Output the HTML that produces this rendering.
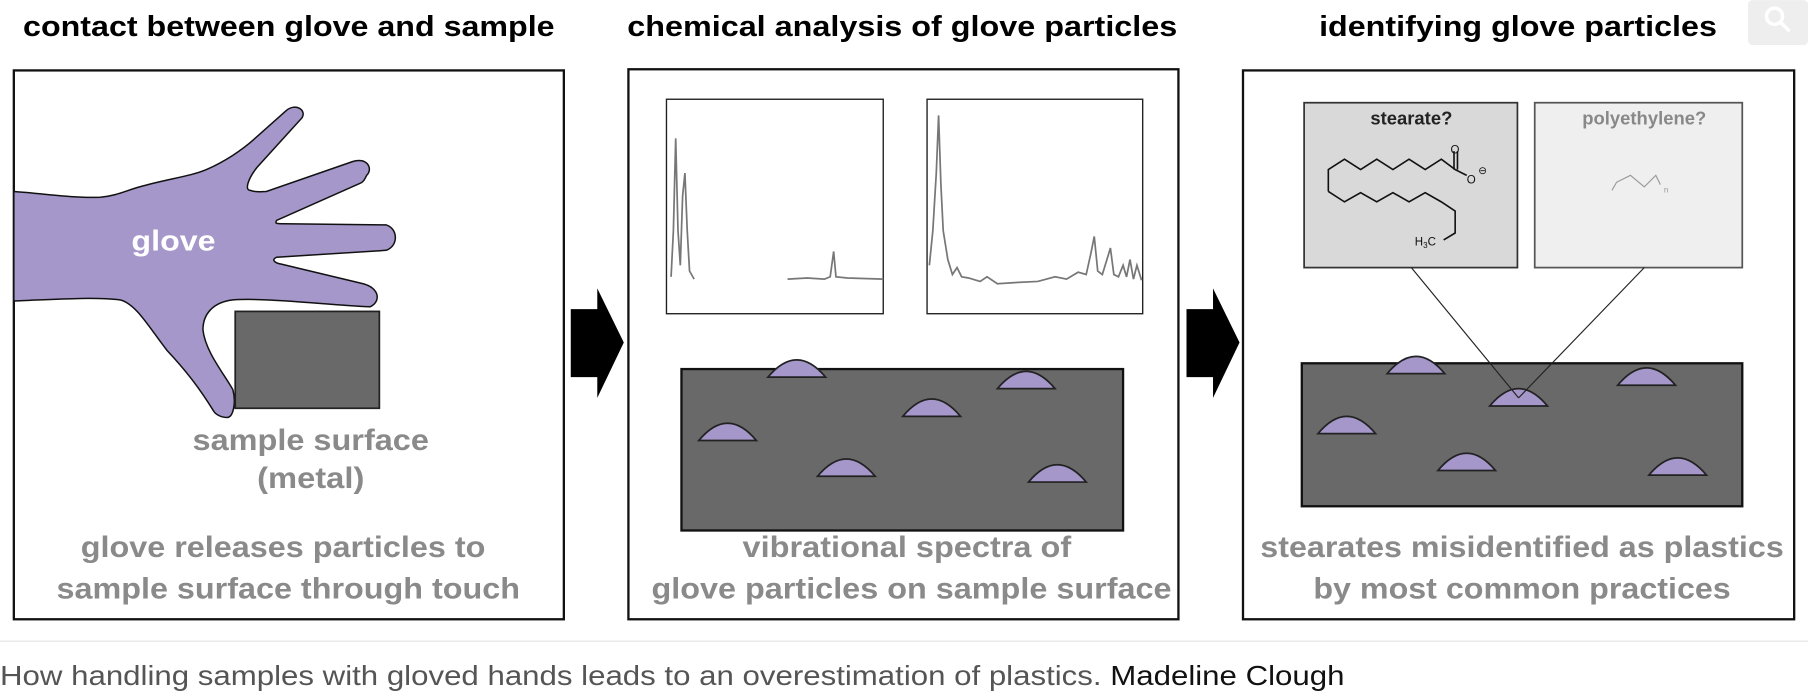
<!DOCTYPE html>
<html><head><meta charset="utf-8"><style>
html,body{margin:0;padding:0;background:#fff;width:1808px;height:692px;overflow:hidden}
svg{display:block}
text{font-family:"Liberation Sans",Arial,sans-serif}
</style></head><body>
<svg width="1808" height="692" viewBox="0 0 1568 600" xmlns="http://www.w3.org/2000/svg">
<rect x="0" y="0" width="1568" height="600" fill="#fff"/>
<!-- titles -->
<g font-weight="bold" font-size="25" fill="#000">
<text x="20" y="31" textLength="461" lengthAdjust="spacingAndGlyphs">contact between glove and sample</text>
<text x="544" y="31" textLength="477" lengthAdjust="spacingAndGlyphs">chemical analysis of glove particles</text>
<text x="1144" y="31" textLength="345" lengthAdjust="spacingAndGlyphs">identifying glove particles</text>
</g>
<rect x="1516" y="0" width="52" height="39" rx="4" fill="#eee"/>
<circle cx="1539" cy="14" r="7" fill="none" stroke="#fff" stroke-width="3"/>
<line x1="1544" y1="19" x2="1552" y2="27" stroke="#fff" stroke-width="3"/>
<!-- panels -->
<g fill="#fff" stroke="#111" stroke-width="2">
<rect x="12" y="61" width="477" height="476"/>
<rect x="545" y="60" width="477" height="477"/>
<rect x="1078" y="61" width="478" height="476"/>
</g>
<!-- arrows -->
<polygon points="495,268 518,268 518,250 541,297 518,345 518,327 495,327" fill="#000"/>
<polygon points="1029,268 1052,268 1052,250 1075,297 1052,345 1052,327 1029,327" fill="#000"/>
<!-- panel 1 -->
<path d="M12,166 C40,168 65,172 87,171 C100,170 110,165 121,162 C145,155 165,153 179,147 C195,140 210,130 220,121 L248,96 C256,89 266,95 262,102 L223,145 C215,155 212,165 217,165 C222,167 227,166 231,166 L306,140 C318,136 324,146 318,152 C316,156 315,158 312,159 L240,191 C238,194 240,194 246,194 L335,195 C345,198 346,213 335,217 L240,223 C235,225 238,228 244,229 L315,246 C330,250 330,262 321,266 C280,264 230,258 202,260 C185,262 176,272 176,286 C178,305 195,325 202,338 C205,350 202,362 197,362 C190,362 186,358 185,356 C172,335 160,320 145,304 C130,285 118,263 104,260 C80,257 40,260 12,261 Z" fill="#a597c9" stroke="#111" stroke-width="1.3"/>
<rect x="204" y="270" width="125" height="84" fill="#696969" stroke="#222" stroke-width="1.5"/>
<text x="114" y="217" font-size="25" font-weight="bold" fill="#fff" textLength="73" lengthAdjust="spacingAndGlyphs">glove</text>
<g font-size="26" font-weight="bold" fill="#8a8a8a">
<text x="167" y="390" textLength="205" lengthAdjust="spacingAndGlyphs">sample surface</text>
<text x="223" y="423" textLength="93" lengthAdjust="spacingAndGlyphs">(metal)</text>
<text x="70" y="483" textLength="351" lengthAdjust="spacingAndGlyphs">glove releases particles to</text>
<text x="49" y="519" textLength="402" lengthAdjust="spacingAndGlyphs">sample surface through touch</text>
<text x="644" y="483" textLength="285" lengthAdjust="spacingAndGlyphs">vibrational spectra of</text>
<text x="565" y="519" textLength="451" lengthAdjust="spacingAndGlyphs">glove particles on sample surface</text>
<text x="1093" y="483" textLength="454" lengthAdjust="spacingAndGlyphs">stearates misidentified as plastics</text>
<text x="1139" y="519" textLength="362" lengthAdjust="spacingAndGlyphs">by most common practices</text>
</g>
<!-- panel 2 spectra -->
<g fill="#fff" stroke="#222" stroke-width="1.2">
<rect x="578" y="86" width="188" height="186"/>
<rect x="804" y="86" width="187" height="186"/>
</g>
<g fill="none" stroke="#777" stroke-width="1.5">
<polyline points="582,240 584,200 586,120 588,200 590,230 592,170 594,150 596,200 598,235 602,242"/>
<polyline points="683,242 700,241 715,242 720,240 723,218 725,240 735,241 766,242"/>
<polyline points="806,230 809,200 812,150 814,100 816,160 818,200 822,225 826,238 830,232 834,240 840,241 850,244 856,240 865,246 880,245 900,244 915,240 925,242 935,236 942,238 946,220 949,205 952,235 956,238 960,225 963,215 966,238 970,240 974,230 977,240 980,225 983,242 986,230 990,243"/>
</g>
<!-- surfaces -->
<rect x="591" y="320" width="383" height="140" fill="#696969" stroke="#111" stroke-width="2"/>
<rect x="1129" y="315" width="382" height="124" fill="#696969" stroke="#111" stroke-width="2"/>
<g fill="#a597c9" stroke="#222" stroke-width="1.5">
<path d="M666,327 Q691,297 716,327 Z"/>
<path d="M865,337 Q890,307 915,337 Z"/>
<path d="M783,361 Q808,331 833,361 Z"/>
<path d="M606,382 Q631,352 656,382 Z"/>
<path d="M709,413 Q734,383 759,413 Z"/>
<path d="M892,418 Q917,388 942,418 Z"/>
<path d="M1203,324 Q1228,294 1253,324 Z"/>
<path d="M1403,334 Q1428,304 1453,334 Z"/>
<path d="M1292,352 Q1317,322 1342,352 Z"/>
<path d="M1143,376 Q1168,346 1193,376 Z"/>
<path d="M1247,408 Q1272,378 1297,408 Z"/>
<path d="M1430,412 Q1455,382 1480,412 Z"/>
</g>
<!-- panel 3 boxes -->
<rect x="1131" y="89" width="185" height="143" fill="#d9d9d9" stroke="#333" stroke-width="1.5"/>
<rect x="1331" y="89" width="180" height="143" fill="#efefef" stroke="#555" stroke-width="1.5"/>
<line x1="1224" y1="232" x2="1317" y2="345" stroke="#222" stroke-width="1"/>
<line x1="1426" y1="232" x2="1317" y2="345" stroke="#222" stroke-width="1"/>
<text x="1224" y="108" font-size="16" font-weight="bold" fill="#222" text-anchor="middle">stearate?</text>
<text x="1426" y="108" font-size="16" font-weight="bold" fill="#888" text-anchor="middle">polyethylene?</text>
<g fill="none" stroke="#111" stroke-width="1.4">
<polyline points="1152,166 1152,147 1166,138 1180,147 1194,138 1208,147 1222,138 1236,147 1250,138 1262,147 1272,152"/>
<line x1="1261" y1="147" x2="1261" y2="131"/><line x1="1264" y1="147" x2="1264" y2="131"/>
<polyline points="1152,166 1166,175 1180,167 1194,175 1208,167 1222,175 1236,167 1250,175 1262,183 1262,202 1252,208"/>
<polyline points="1398,165 1402,158 1414,152 1426,162 1436,152 1440,160" stroke="#999" stroke-width="1"/>
</g>
<g font-size="10" fill="#111">
<text x="1258" y="133">O</text>
<text x="1272" y="159">O</text>
<text x="1282" y="151" font-size="9">⊖</text>
<text x="1227" y="213">H<tspan font-size="7" dy="2">3</tspan><tspan dy="-2">C</tspan></text>
</g>
<text x="1443" y="167" font-size="7" fill="#999">n</text>
<!-- caption -->
<line x1="0" y1="556" x2="1568" y2="556" stroke="#e3e3e3" stroke-width="1"/>
<text x="0" y="594" font-size="24" fill="#555" textLength="1166" lengthAdjust="spacingAndGlyphs">How handling samples with gloved hands leads to an overestimation of plastics. <tspan fill="#111">Madeline Clough</tspan></text>
</svg>
</body></html>
